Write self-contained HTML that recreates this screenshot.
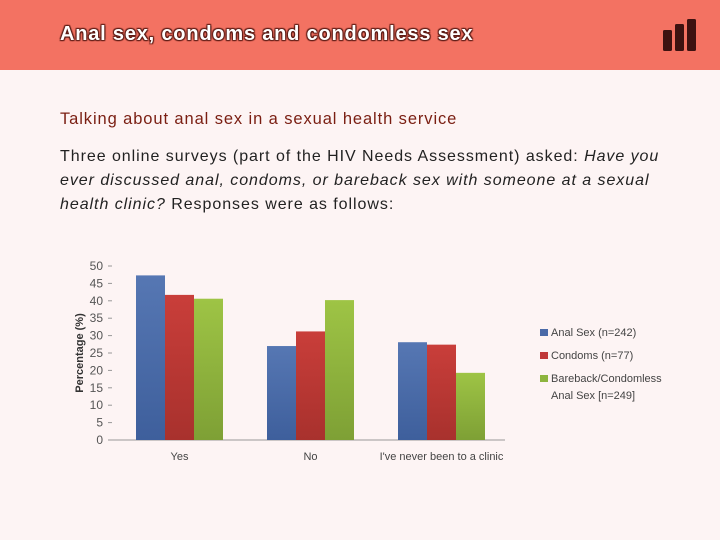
<!DOCTYPE html>
<html><head><meta charset="utf-8"><style>
body{margin:0;width:720px;height:540px;overflow:hidden;background:#fdf4f4;font-family:"Liberation Sans",sans-serif;position:relative}
#hdr{position:absolute;left:0;top:0;width:720px;height:70px;background:#f37262}
#title{position:absolute;left:60px;top:23px;font-size:20px;letter-spacing:0.8px;font-weight:bold;color:#fff;text-shadow:1px 1px 1px #5a1a14,-1px -1px 1px #5a1a14,1px -1px 1px #5a1a14,-1px 1px 1px #5a1a14}
#sub{position:absolute;left:60px;top:110px;font-size:16.5px;letter-spacing:0.9px;color:#7a1e12}
#body{position:absolute;left:60px;top:145px;width:660px;font-size:16px;line-height:24px;color:#222;white-space:nowrap;letter-spacing:0.95px}
</style></head><body>
<div id="hdr"></div>
<div id="title">Anal sex, condoms and condomless sex</div>
<svg style="position:absolute;left:662px;top:18px" width="36" height="34">
<rect x="1" y="12" width="9" height="21" rx="1.5" fill="#3d1210"/><rect x="13" y="6" width="9" height="27" rx="1.5" fill="#3d1210"/><rect x="25" y="1" width="9" height="32" rx="1.5" fill="#3d1210"/></svg>
<div id="sub">Talking about anal sex in a sexual health service</div>
<div id="body">Three online surveys (part of the HIV Needs Assessment) asked: <i>Have you</i><br><i>ever discussed anal, condoms, or bareback sex with someone at a sexual</i><br><i>health clinic?</i> Responses were as follows:</div>
<svg id="chart" style="position:absolute;left:0;top:0" width="720" height="540">
<defs>
<linearGradient id="gb" x1="0" y1="0" x2="0" y2="1"><stop offset="0" stop-color="#5677b3"/><stop offset="1" stop-color="#3e5f9c"/></linearGradient>
<linearGradient id="gr" x1="0" y1="0" x2="0" y2="1"><stop offset="0" stop-color="#c93e3a"/><stop offset="1" stop-color="#a8312d"/></linearGradient>
<linearGradient id="gg" x1="0" y1="0" x2="0" y2="1"><stop offset="0" stop-color="#9ec445"/><stop offset="1" stop-color="#7ea035"/></linearGradient>
</defs>
<g id="axes"></g><g id="bars"></g><g id="legend"></g>
</svg>
<script>
const categories=["Yes","No","I've never been to a clinic"];
const seriesNames=["Anal Sex (n=242)","Condoms (n=77)","Bareback/Condomless"];
const analSex=[47.3,27,28.1];
const condoms=[41.7,31.2,27.4];
const bareback=[40.6,40.2,19.3];
const yTicks=[0,5,10,15,20,25,30,35,40,45,50];
const NS="http://www.w3.org/2000/svg";
const x0=112,x1=505,y0=440,yTop=266,ymax=50;
const y=v=>y0-(v/ymax)*(y0-yTop);
const catW=(x1-x0)/categories.length, barW=29;
const xCat=i=>x0+catW*i+catW/2;
function mk(tag,attrs,parent,text){const e=document.createElementNS(NS,tag);for(const k in attrs)e.setAttribute(k,attrs[k]);if(text!=null)e.textContent=text;parent.appendChild(e);return e;}
const ax=document.getElementById('axes'),bg=document.getElementById('bars'),lg=document.getElementById('legend');
let l=mk('line',{x1:x0,x2:x1,y1:y0,y2:y0,stroke:'#999'},ax);

yTicks.forEach(t=>{
 let tx=mk('text',{x:103,y:y(t)+4,'text-anchor':'end','font-size':12,fill:'#555'},ax,t);
 
 mk('line',{x1:108,x2:112,y1:y(t),y2:y(t),stroke:'#999'},ax);
});
categories.forEach((c,i)=>{
 let tx=mk('text',{x:xCat(i)+2,y:460,'text-anchor':'middle','font-size':11,fill:'#444'},ax,c);
 
});
let yt=mk('text',{x:0,y:0,transform:'translate(83,353) rotate(-90)','text-anchor':'middle','font-size':11,'font-weight':'bold',fill:'#333'},ax,'Percentage (%)');

const series=[analSex,condoms,bareback],fills=['url(#gb)','url(#gr)','url(#gg)'],names=['bar-anal-sex','bar-condoms','bar-bareback'];
series.forEach((s,si)=>s.forEach((v,i)=>{
 const bx=xCat(i)-1.5*barW+si*barW+2;
 let r=mk('rect',{x:bx,y:y(v),width:barW,height:y0-y(v),fill:fills[si]},bg);
 
}));
const lc=['#4a6aa8','#c0393a','#8db43e'],ly=[335,358,381];
seriesNames.forEach((n,i)=>{
 let r=mk('rect',{x:540,y:ly[i]-6,width:8,height:7,fill:lc[i]},lg);
 
 let t=mk('text',{x:551,y:ly[i]+1,'font-size':11,fill:'#444'},lg,n);
 
});
let t2=mk('text',{x:551,y:399,'font-size':11,fill:'#444'},lg,'Anal Sex [n=249]');

</script>
</body></html>
